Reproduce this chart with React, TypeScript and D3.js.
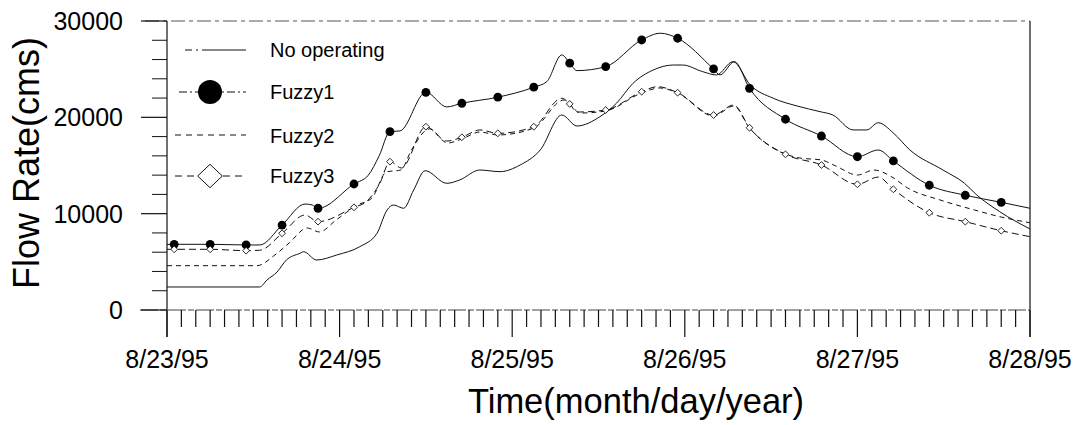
import React from "react";
import * as d3 from "d3";

// ---- data (hours since 8/23/95 00:00, flow in cms) ----
const dayLabels = ["8/23/95", "8/24/95", "8/25/95", "8/26/95", "8/27/95", "8/28/95"];
const yTickValues = [0, 10000, 20000, 30000];
const seriesNames = ["No operating", "Fuzzy1", "Fuzzy2", "Fuzzy3"];

const noOpHours = [0, 12.9, 13.9, 15.3, 16.6, 18.5, 19.0, 20.8, 23.6, 26.8, 29.2, 30.6, 31.5, 32.9, 34.3, 35.9, 38.9, 40.7, 43.5, 46.3, 49.1, 51.9, 54.9, 57.0, 60.2, 62.5, 64.8, 67.6, 70.4, 71.7, 74.5, 76.4, 78.7, 81.1, 84.3, 87.6, 90.8, 92.6, 95.4, 97.3, 98.9, 101.0, 103.3, 107.9, 110.9, 112.6, 115.8, 120];
const noOpValues = [2390, 2390, 3110, 3940, 5190, 5890, 6050, 5190, 5710, 6570, 7960, 10380, 10900, 10560, 12460, 14460, 13150, 13500, 14530, 14360, 15050, 16610, 20240, 19100, 20070, 21460, 23530, 24910, 25430, 25430, 24740, 24400, 25780, 23360, 21980, 21180, 20590, 20240, 18690, 18690, 19440, 18370, 16610, 14530, 13150, 11940, 10200, 8410];

const fuzzy1Hours = [0, 1, 6, 11, 12.9, 16, 19.2, 20.2, 21, 26, 28, 29.5, 31, 32.4, 36, 38.9, 41, 46, 51, 52.8, 54.9, 56, 57, 61, 66, 68.6, 71, 76, 76.9, 78.9, 81, 86, 91, 96, 98.9, 101, 106, 111, 116, 120];
const fuzzy1Values = [6800, 6820, 6820, 6750, 6750, 8820, 11000, 10900, 10560, 13080, 14000, 16000, 18510, 18590, 22600, 21080, 21460, 22090, 23130, 23700, 26480, 25620, 24850, 25260, 28030, 28730, 28210, 25020, 24400, 25780, 23010, 19800, 18060, 15910, 16610, 15470, 12950, 11910, 11180, 10560];

const fuzzy2Hours = [0, 12.5, 15, 17, 19.5, 21.2, 23.5, 26.5, 28.5, 30.5, 32.5, 34, 36.5, 39, 41, 43.5, 46, 51, 55.2, 57.5, 61, 66, 68.5, 71, 76, 78.8, 81, 85, 88, 91, 93, 96, 98.3, 100.8, 103, 107.5, 112.3, 116, 120];
const fuzzy2Values = [4600, 4600, 5710, 6960, 8510, 8100, 9340, 10900, 11630, 14330, 14530, 16610, 18800, 17340, 17750, 18480, 18170, 18890, 21800, 20450, 20660, 22530, 23050, 22530, 20140, 21180, 18890, 16510, 15780, 15570, 14950, 14010, 14530, 13810, 12660, 11420, 10380, 9650, 9060];

const fuzzy3Hours = [0, 1, 6, 11, 12.9, 16, 19.2, 21, 26, 27.7, 29.6, 31, 32.6, 36, 38.9, 41, 43.5, 46, 51, 54.9, 56, 57, 61, 66, 68.2, 71, 76, 78.8, 81, 86, 91, 96, 98.9, 101, 106, 111, 116, 120];
const fuzzy3Values = [6300, 6300, 6300, 6160, 6200, 7960, 9860, 9170, 10660, 11240, 13150, 15400, 14740, 19030, 17540, 17930, 18690, 18340, 19030, 21980, 21390, 20550, 20760, 22660, 23180, 22560, 20240, 21280, 18920, 16160, 15050, 13050, 13800, 12530, 10100, 9170, 8230, 7610];

const markerHours = [1, 6, 11, 16, 21, 26, 31, 36, 41, 46, 51, 56, 61, 66, 71, 76, 81, 86, 91, 96, 101, 106, 111, 116];
const fuzzy1Markers = [6820, 6820, 6750, 8820, 10560, 13080, 18510, 22600, 21460, 22090, 23130, 25620, 25260, 28030, 28210, 25020, 23010, 19800, 18060, 15910, 15470, 12950, 11910, 11180];
const fuzzy3Markers = [6300, 6300, 6160, 7960, 9170, 10660, 15400, 19030, 17930, 18340, 19030, 21390, 20760, 22660, 22560, 20240, 18920, 16160, 15050, 13050, 12530, 10100, 9170, 8230];

const FONT = "'Liberation Sans', Arial, Helvetica, sans-serif";

export default function App() {
  const x = d3.scaleLinear().domain([0, 120]).range([167, 1030]);
  const y = d3.scaleLinear().domain([0, 30000]).range([310, 21]);

  const line = d3
    .line<[number, number]>()
    .x((d) => x(d[0]))
    .y((d) => y(d[1]))
    .curve(d3.curveMonotoneX);

  const zip = (hs: number[], vs: number[]) => hs.map((h, i) => [h, vs[i]] as [number, number]);

  const minorX = d3.range(0, 121, 2).filter((h) => h % 24 !== 0);
  const majorX = d3.range(0, 121, 24);
  const minorY = d3.range(2000, 30000, 2000).filter((v) => v % 10000 !== 0);

  const diamond = (cx: number, cy: number, rx: number, ry: number) =>
    `M${cx},${cy - ry}L${cx + rx},${cy}L${cx},${cy + ry}L${cx - rx},${cy}Z`;

  const stroke = "#111";

  return (
    <div style={{ position: "absolute", left: 0, top: 0 }}>
      <svg width={1079} height={425} style={{ display: "block", background: "#fff" }}>
        {/* frame */}
        <line x1={145} x2={1030} y1={y(30000)} y2={y(30000)} stroke="#555" strokeWidth={1.2} strokeDasharray="14,4,4,4" />
        <line x1={1030} x2={1030} y1={y(30000)} y2={337} stroke={stroke} strokeWidth={1.2} />
        <line x1={167} x2={167} y1={y(30000)} y2={337} stroke={stroke} strokeWidth={1.2} />
        <line x1={140} x2={1030} y1={y(0)} y2={y(0)} stroke="#444" strokeWidth={1} strokeDasharray="18,2,6,2" />

        {/* y ticks */}
        {minorY.map((v) => (
          <line key={"my" + v} x1={152} x2={167} y1={y(v)} y2={y(v)} stroke={stroke} strokeWidth={1} />
        ))}
        {yTickValues.map((v) => (
          <line key={"My" + v} x1={141} x2={167} y1={y(v)} y2={y(v)} stroke={stroke} strokeWidth={1.2} />
        ))}
        {yTickValues.map((v) => (
          <text key={"ty" + v} x={123} y={y(v)} dy="0.36em" textAnchor="end" fontFamily={FONT} fontSize={25} fill="#000">
            {v}
          </text>
        ))}

        {/* x ticks */}
        {minorX.map((h) => (
          <line key={"mx" + h} x1={x(h)} x2={x(h)} y1={y(0)} y2={327} stroke={stroke} strokeWidth={1.2} />
        ))}
        {majorX.map((h) => (
          <line key={"Mx" + h} x1={x(h)} x2={x(h)} y1={y(0)} y2={337} stroke={stroke} strokeWidth={1.2} />
        ))}
        {majorX.map((h, i) => (
          <text key={"tx" + h} x={x(h)} y={368} textAnchor="middle" fontFamily={FONT} fontSize={25} fill="#000">
            {dayLabels[i]}
          </text>
        ))}

        {/* axis titles */}
        <text x={636} y={413} textAnchor="middle" fontFamily={FONT} fontSize={34.5} fill="#000">
          Time(month/day/year)
        </text>
        <text
          transform={`translate(39,163) rotate(-90)`}
          textAnchor="middle"
          fontFamily={FONT}
          fontSize={36}
          fill="#000"
        >
          Flow Rate(cms)
        </text>

        {/* series lines */}
        <path d={line(zip(noOpHours, noOpValues)) || ""} fill="none" stroke={stroke} strokeWidth={1} />
        <path d={line(zip(fuzzy1Hours, fuzzy1Values)) || ""} fill="none" stroke={stroke} strokeWidth={1} />
        <path d={line(zip(fuzzy2Hours, fuzzy2Values)) || ""} fill="none" stroke={stroke} strokeWidth={1} strokeDasharray="5,4" />
        <path d={line(zip(fuzzy3Hours, fuzzy3Values)) || ""} fill="none" stroke={stroke} strokeWidth={1} strokeDasharray="7,4" />

        {/* markers */}
        {markerHours.map((h, i) => (
          <circle key={"f1" + h} cx={x(h)} cy={y(fuzzy1Markers[i])} r={4.4} fill="#000" />
        ))}
        {markerHours.map((h, i) => (
          <path key={"f3" + h} d={diamond(x(h), y(fuzzy3Markers[i]), 3.4, 3.4)} fill="#fff" stroke={stroke} strokeWidth={0.9} />
        ))}

        {/* legend */}
        <line x1={185} x2={246} y1={50} y2={50} stroke={stroke} strokeWidth={1} strokeDasharray="7,4,2,4,60" />
        <text x={270} y={56.5} fontFamily={FONT} fontSize={20} fill="#000">{seriesNames[0]}</text>

        <line x1={179} x2={246} y1={92} y2={92} stroke={stroke} strokeWidth={1} strokeDasharray="8,3,2,3" />
        <circle cx={210} cy={92} r={12} fill="#000" />
        <text x={270} y={99.3} fontFamily={FONT} fontSize={20} fill="#000">{seriesNames[1]}</text>

        <line x1={175} x2={246} y1={135} y2={135} stroke={stroke} strokeWidth={1} strokeDasharray="6,5" />
        <text x={270} y={142.7} fontFamily={FONT} fontSize={20} fill="#000">{seriesNames[2]}</text>

        <line x1={175} x2={246} y1={176} y2={176} stroke={stroke} strokeWidth={1} strokeDasharray="7,5" />
        <path d={diamond(210, 176, 12.3, 11.7)} fill="#fff" stroke={stroke} strokeWidth={1} />
        <text x={270} y={183.3} fontFamily={FONT} fontSize={20} fill="#000">{seriesNames[3]}</text>
      </svg>
    </div>
  );
}
